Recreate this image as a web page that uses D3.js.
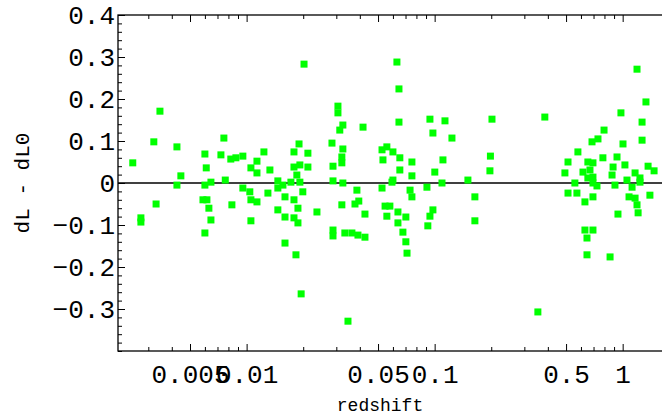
<!DOCTYPE html>
<html lang="en">
<head>
<meta charset="UTF-8">
<title>dL - dL0 vs redshift</title>
<script src="https://d3js.org/d3.v7.min.js"></script>
<style>
    body { margin: 0; background: #fff; }
    svg { display: block; }
    .tick text { font-family: "Liberation Mono", monospace; fill: #000; }
    .tick line { stroke: #000; }
</style>
</head>
<body>
<div id="chart"></div>
<script>
    // redshift of each supernova and its offset dL - dL0
    var redshift = [
        0.00248, 0.00321, 0.00346, 0.00426, 0.00447, 0.00426, 0.00274, 0.00274, 0.0033, 0.006,
        0.0061, 0.006, 0.00646, 0.00757, 0.0073, 0.0077, 0.00824, 0.00877, 0.00955, 0.00586,
        0.00615, 0.0063, 0.00646, 0.006, 0.00835, 0.00955,
        0.01054, 0.01135, 0.01135, 0.01236, 0.0133, 0.01466, 0.0156, 0.0104, 0.01054, 0.01135,
        0.01054, 0.01298, 0.01466, 0.016, 0.01466, 0.016, 0.016, 0.01786, 0.019, 0.02118,
        0.01786, 0.0192, 0.02118, 0.0185, 0.0172, 0.0192, 0.0199, 0.01786, 0.01875, 0.01786,
        0.01875, 0.0183, 0.0195, 0.0202,
        0.02366, 0.02844, 0.0306, 0.0306, 0.0325, 0.0313, 0.0416, 0.0325, 0.0321, 0.0321,
        0.0288, 0.0288, 0.0325, 0.0386, 0.0321, 0.0377, 0.0395, 0.0426, 0.0288, 0.0288,
        0.0333, 0.0363, 0.0391, 0.0426, 0.0346,
        0.063, 0.0646, 0.0646, 0.0531, 0.0557, 0.0525, 0.06, 0.0653, 0.0757, 0.0653,
        0.0757, 0.06, 0.0525, 0.0593, 0.074, 0.0757, 0.0545, 0.0578, 0.0557, 0.0638,
        0.0703, 0.0638, 0.0678, 0.0703, 0.0713, 0.0944, 0.1135, 0.0979, 0.1236, 0.1107,
        0.1002, 0.1094, 0.091, 0.1503, 0.1637, 0.1637, 0.0979, 0.0944, 0.092, 0.2018,
        0.198, 0.1968, 0.3855, 0.354,
        1.192, 1.33, 0.979, 1.268, 0.796, 0.739, 0.687, 1.004, 1.268, 0.578,
        0.785, 0.933, 0.512, 0.653, 0.695, 1.028, 0.889, 0.493, 0.615, 0.67,
        0.695, 0.878, 1.164, 1.365, 1.469, 1.054, 1.236, 0.557, 0.73, 0.91,
        1.122, 0.695, 1.236, 0.512, 0.571, 0.63, 0.695, 1.081, 1.164, 1.192,
        1.208, 0.944, 1.396, 0.63, 0.695, 0.646, 0.646, 0.857, 0.653
    ];
    var dLdiff = [
        0.048, 0.098, 0.171, 0.086, 0.017, -0.005, -0.083, -0.093, -0.05, 0.069,
        0.036, -0.005, 0.002, 0.107, 0.067, 0.007, 0.057, 0.06, 0.064, -0.04,
        -0.04, -0.06, -0.088, -0.119, -0.052, -0.012,
        0.036, 0.052, 0.024, 0.074, 0.031, 0.005, -0.005, -0.021, -0.04, -0.045,
        -0.09, -0.024, -0.012, -0.033, -0.064, -0.081, -0.143, 0.074, 0.093, 0.071,
        0.038, 0.043, 0.038, 0.019, 0.002, 0.002, -0.021, -0.04, -0.06, -0.083,
        -0.095, -0.171, -0.264, 0.283,
        -0.069, 0.095, 0.183, 0.167, 0.138, 0.126, 0.133, 0.081, 0.062, 0.048,
        0.04, 0.005, 0, -0.017, -0.052, -0.05, -0.043, -0.074, -0.112, -0.126,
        -0.119, -0.119, -0.124, -0.129, -0.329,
        0.288, 0.224, 0.145, 0.055, 0.086, 0.079, 0.074, 0.06, 0.05, 0.031,
        0.017, 0.007, -0.012, 0.002, -0.017, -0.033, -0.055, -0.055, -0.079, -0.069,
        -0.081, -0.095, -0.117, -0.14, -0.167, 0.152, 0.148, 0.119, 0.107, 0.055,
        0.026, 0, -0.01, 0.007, -0.033, -0.09, -0.064, -0.079, -0.102, 0.152,
        0.064, 0.029, 0.157, -0.307,
        0.271, 0.193, 0.167, 0.145, 0.126, 0.105, 0.098, 0.093, 0.102, 0.074,
        0.06, 0.062, 0.05, 0.05, 0.048, 0.043, 0.038, 0.024, 0.026, 0.031,
        0.014, 0.019, 0.024, 0.04, 0.029, 0.007, 0.012, 0, -0.007, -0.005,
        -0.01, 0, 0.002, -0.024, -0.024, -0.045, -0.033, -0.033, -0.036, -0.052,
        -0.071, -0.074, -0.029, -0.112, -0.112, -0.131, -0.171, -0.176, 0.012
    ];

    var xTickValues = [0.005, 0.01, 0.05, 0.1, 0.5, 1];
    var xTickLabels = ["0.005", "0.01", "0.05", "0.1", "0.5", "1"];
    var yTickValues = [-0.3, -0.2, -0.1, 0, 0.1, 0.2, 0.3, 0.4];

    var width = 662, height = 420;
    var margin = {top: 15, left: 118, bottom: 351, right: 666};

    var x = d3.scaleLog()
        .domain([0.00207, 1.7])
        .range([margin.left, margin.right]);
    var y = d3.scaleLinear()
        .domain([-0.4, 0.4])
        .range([margin.bottom, margin.top]);

    var svg = d3.select("#chart")
        .append("svg")
            .attr("width", width)
            .attr("height", height);

    var yFormat = function (d) { return d === 0 ? "0" : d3.format(".1f")(d); };

    // left axis, ticks pointing into the plot
    svg.append("g")
        .attr("transform", "translate(" + margin.left + ",0)")
        .call(d3.axisLeft(y).ticks(40).tickSize(-4).tickFormat(""))
        .call(function (g) { g.select(".domain").remove(); });
    svg.append("g")
        .attr("class", "yAxis")
        .attr("transform", "translate(" + margin.left + ",0)")
        .call(d3.axisLeft(y).tickValues(yTickValues).tickSize(-7).tickPadding(3).tickFormat(yFormat))
        .call(function (g) { g.select(".domain").remove(); });
    svg.selectAll(".yAxis text").style("font-size", "26px");

    // bottom and top axes (log)
    var minorX = x.ticks().filter(function (d) { return xTickValues.indexOf(d) < 0; });
    [[d3.axisBottom, margin.bottom], [d3.axisTop, margin.top]].forEach(function (a) {
        svg.append("g")
            .attr("transform", "translate(0," + a[1] + ")")
            .call(a[0](x).tickValues(minorX).tickSize(-4).tickFormat(""))
            .call(function (g) { g.select(".domain").remove(); });
        svg.append("g")
            .attr("class", a[1] === margin.bottom ? "xAxis" : "xTop")
            .attr("transform", "translate(0," + a[1] + ")")
            .call(a[0](x).tickValues(xTickValues).tickSize(-7).tickPadding(14)
                .tickFormat(function (d, i) { return a[1] === margin.bottom ? xTickLabels[i] : ""; }))
            .call(function (g) { g.select(".domain").remove(); });
    });
    svg.selectAll(".xAxis text").style("font-size", "26px");

    // frame
    svg.append("rect")
        .attr("x", margin.left)
        .attr("y", margin.top)
        .attr("width", margin.right - margin.left)
        .attr("height", margin.bottom - margin.top)
        .attr("fill", "none")
        .attr("stroke", "#000")
        .attr("stroke-width", 1.3);

    // zero line
    svg.append("line")
        .attr("x1", margin.left)
        .attr("x2", margin.right)
        .attr("y1", y(0))
        .attr("y2", y(0))
        .attr("stroke", "#000")
        .attr("stroke-width", 1.5);

    // points
    svg.selectAll("rect.pt")
        .data(redshift)
        .enter()
        .append("rect")
            .attr("class", "pt")
            .attr("x", function (d) { return x(d) - 3.5; })
            .attr("y", function (d, i) { return y(dLdiff[i]) - 3.5; })
            .attr("width", 7)
            .attr("height", 7)
            .attr("fill", "#00ff00");

    // axis titles
    svg.append("text")
        .attr("x", 380)
        .attr("y", 411)
        .attr("text-anchor", "middle")
        .style("font-family", "'Liberation Mono', monospace")
        .style("font-size", "18px")
        .text("redshift");
    svg.append("text")
        .attr("transform", "translate(29,183) rotate(-90)")
        .attr("text-anchor", "middle")
        .style("font-family", "'Liberation Mono', monospace")
        .style("font-size", "21px")
        .text("dL - dL0");
</script>
</body>
</html>
